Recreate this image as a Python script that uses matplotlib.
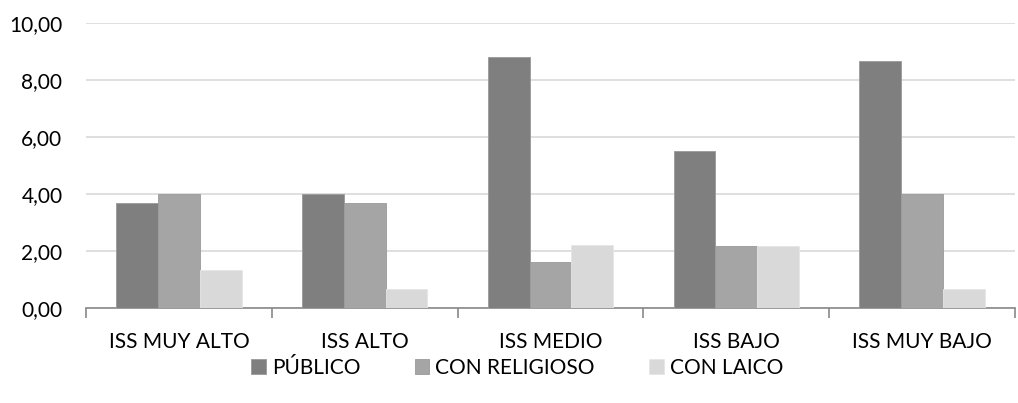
import numpy as np
import matplotlib.pyplot as plt
from matplotlib.ticker import FuncFormatter

categorias = ["ISS MUY ALTO", "ISS ALTO", "ISS MEDIO", "ISS BAJO", "ISS MUY BAJO"]
publico = [3.67, 4.00, 8.80, 5.50, 8.67]
religioso = [4.00, 3.67, 1.60, 2.17, 4.00]
laico = [1.33, 0.67, 2.20, 2.17, 0.67]
series = ["PÚBLICO", "CON RELIGIOSO", "CON LAICO"]

plt.rcParams['font.family'] = ['Lato', 'DejaVu Sans']

fig = plt.figure(figsize=(10.18, 4.03), dpi=100)
ax = fig.add_axes([0.0845, 0.2357, 0.9125, 0.7073])

x = np.arange(len(categorias))
w = 0.225
colores = ["#7f7f7f", "#a5a5a5", "#d9d9d9"]
for i, (vals, nom) in enumerate(zip([publico, religioso, laico], series)):
    ax.bar(x + (i - 1) * w, vals, w, color=colores[i], label=nom,
           edgecolor="#9a9a9a" if i < 2 else "#e6e6e6", linewidth=0.6, zorder=3)

ax.set_xlim(-0.5, len(categorias) - 0.5)
ax.set_ylim(0, 10)
ax.set_yticks(np.arange(0, 10.1, 2))
ax.yaxis.set_major_formatter(FuncFormatter(lambda v, p: f"{v:.2f}".replace(".", ",")))
ax.grid(axis="y", color="#d9d9d9", linewidth=1.2, zorder=0)

ax.set_xticks(x)
ax.set_xticklabels(categorias)
ax.set_xticks(np.arange(-0.5, len(categorias)), minor=True)
ax.tick_params(axis="x", which="major", length=0, pad=17, labelsize=15, colors="#000000")
ax.tick_params(axis="x", which="minor", length=7, width=1.2, color="#898989", direction="out")
ax.tick_params(axis="y", length=0, pad=17, labelsize=15)

for s in ["top", "right", "left"]:
    ax.spines[s].set_visible(False)
ax.spines["bottom"].set_color("#898989")
ax.spines["bottom"].set_linewidth(1.2)

fig.legend(loc="center", bbox_to_anchor=(0.508, 0.087), ncol=3, frameon=False,
           fontsize=15, handlelength=0.7, handleheight=0.7, handletextpad=0.3,
           columnspacing=2.6)

fig.savefig("out.png", dpi=100)
